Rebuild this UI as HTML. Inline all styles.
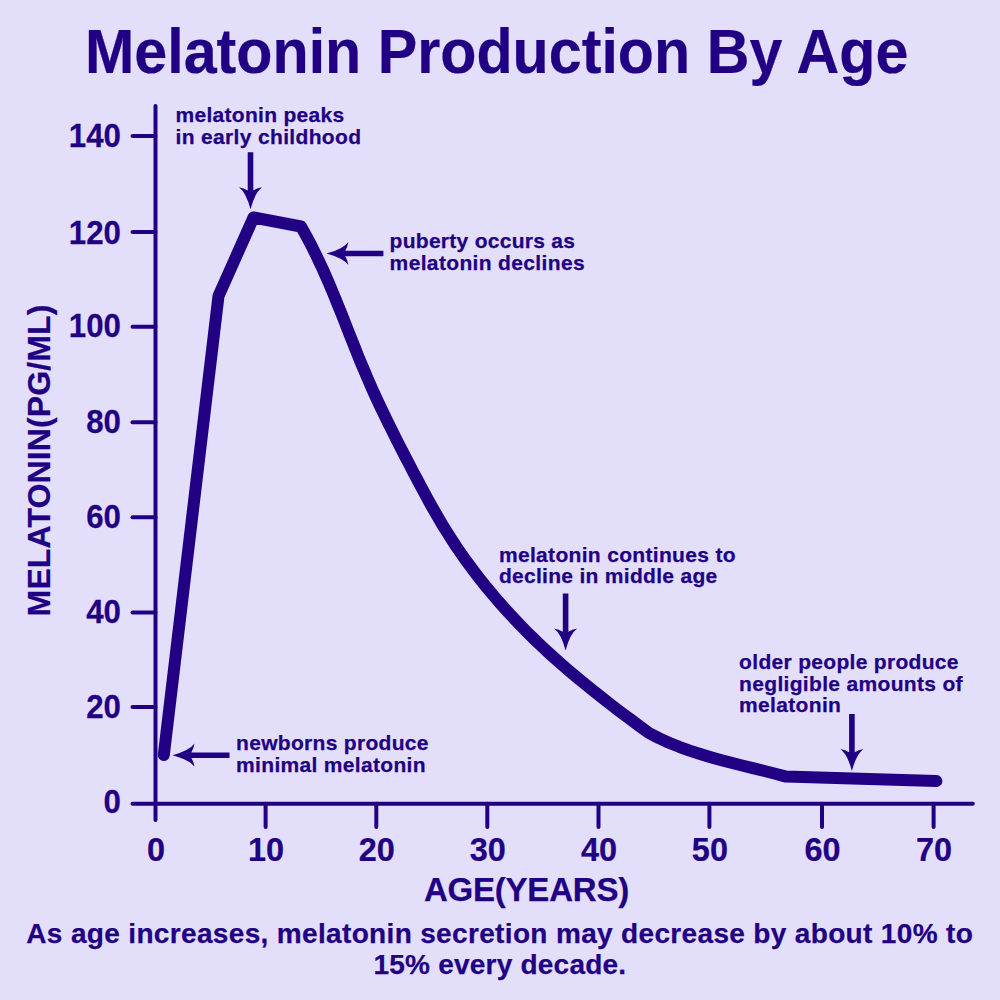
<!DOCTYPE html>
<html><head><meta charset="utf-8">
<style>
html,body{margin:0;padding:0;background:#E3DFFB;width:1000px;height:1000px;overflow:hidden;}
svg{display:block;}
text{font-family:"Liberation Sans",sans-serif;font-weight:bold;fill:#210084;stroke:#210084;stroke-width:0.25px;}
</style></head>
<body>
<svg width="1000" height="1000" viewBox="0 0 1000 1000">
<rect width="1000" height="1000" fill="#E3DFFB"/>
<text transform="translate(85,72.6) scale(0.94,1)" x="0" y="0" font-size="63" stroke="#210084" stroke-width="1.6" stroke-linejoin="round">Melatonin Production By Age</text>
<g stroke="#210084" stroke-width="4" stroke-linecap="round" fill="none"><line x1="155.5" y1="106" x2="155.5" y2="820"/><line x1="132.5" y1="803.8" x2="972.8" y2="803.8"/><line x1="132.5" y1="136" x2="155.5" y2="136"/><line x1="132.5" y1="232" x2="155.5" y2="232"/><line x1="132.5" y1="326.8" x2="155.5" y2="326.8"/><line x1="132.5" y1="422.2" x2="155.5" y2="422.2"/><line x1="132.5" y1="517.2" x2="155.5" y2="517.2"/><line x1="132.5" y1="612.6" x2="155.5" y2="612.6"/><line x1="132.5" y1="707" x2="155.5" y2="707"/><line x1="265.6" y1="803.8" x2="265.6" y2="827"/><line x1="376.3" y1="803.8" x2="376.3" y2="827"/><line x1="487.3" y1="803.8" x2="487.3" y2="827"/><line x1="598.5" y1="803.8" x2="598.5" y2="827"/><line x1="709.4" y1="803.8" x2="709.4" y2="827"/><line x1="822" y1="803.8" x2="822" y2="827"/><line x1="933.6" y1="803.8" x2="933.6" y2="827"/></g>
<text transform="translate(121,147.0) scale(0.92,1)" x="0" y="0" font-size="34" text-anchor="end">140</text>
<text transform="translate(121,244.3) scale(0.92,1)" x="0" y="0" font-size="34" text-anchor="end">120</text>
<text transform="translate(121,337.1) scale(0.92,1)" x="0" y="0" font-size="34" text-anchor="end">100</text>
<text transform="translate(121,432.9) scale(0.92,1)" x="0" y="0" font-size="34" text-anchor="end">80</text>
<text transform="translate(121,528.0) scale(0.92,1)" x="0" y="0" font-size="34" text-anchor="end">60</text>
<text transform="translate(121,622.6) scale(0.92,1)" x="0" y="0" font-size="34" text-anchor="end">40</text>
<text transform="translate(121,717.8) scale(0.92,1)" x="0" y="0" font-size="34" text-anchor="end">20</text>
<text transform="translate(121,812.9) scale(0.92,1)" x="0" y="0" font-size="34" text-anchor="end">0</text>
<text transform="translate(156.0,861) scale(0.955,1)" x="0" y="0" font-size="34" text-anchor="middle">0</text>
<text transform="translate(266.1,861) scale(0.955,1)" x="0" y="0" font-size="34" text-anchor="middle">10</text>
<text transform="translate(376.8,861) scale(0.955,1)" x="0" y="0" font-size="34" text-anchor="middle">20</text>
<text transform="translate(487.8,861) scale(0.955,1)" x="0" y="0" font-size="34" text-anchor="middle">30</text>
<text transform="translate(599.0,861) scale(0.955,1)" x="0" y="0" font-size="34" text-anchor="middle">40</text>
<text transform="translate(709.9,861) scale(0.955,1)" x="0" y="0" font-size="34" text-anchor="middle">50</text>
<text transform="translate(822.5,861) scale(0.955,1)" x="0" y="0" font-size="34" text-anchor="middle">60</text>
<text transform="translate(934.1,861) scale(0.955,1)" x="0" y="0" font-size="34" text-anchor="middle">70</text>
<text x="423.9" y="901" font-size="33" textLength="205.3" lengthAdjust="spacing" >AGE(YEARS)</text>
<text transform="translate(50.4,616.4) rotate(-90)" x="0" y="0" font-size="32" textLength="311.8" lengthAdjust="spacing">MELATONIN(PG/ML)</text>
<text x="26.3" y="943" font-size="28" textLength="946.5" lengthAdjust="spacing" >As age increases, melatonin secretion may decrease by about 10% to</text>
<text x="373.4" y="974.4" font-size="28" textLength="252.7" lengthAdjust="spacing" >15% every decade.</text>
<text x="175.5" y="121.5" font-size="21" textLength="168.7" lengthAdjust="spacing" >melatonin peaks</text>
<text x="175.5" y="143.5" font-size="21" textLength="185.5" lengthAdjust="spacing" >in early childhood</text>
<text x="389.6" y="248.1" font-size="21" textLength="185.4" lengthAdjust="spacing" >puberty occurs as</text>
<text x="389.6" y="270.1" font-size="21" textLength="195.0" lengthAdjust="spacing" >melatonin declines</text>
<text x="498.9" y="561.5" font-size="21" textLength="236.7" lengthAdjust="spacing" >melatonin continues to</text>
<text x="498.9" y="583.1" font-size="21" textLength="218.3" lengthAdjust="spacing" >decline in middle age</text>
<text x="739.1" y="669" font-size="21" textLength="219.4" lengthAdjust="spacing" >older people produce</text>
<text x="739.1" y="690.6" font-size="21" textLength="223.5" lengthAdjust="spacing" >negligible amounts of</text>
<text x="739.1" y="712.2" font-size="21" textLength="101.8" lengthAdjust="spacing" >melatonin</text>
<text x="236.1" y="750.3" font-size="21" textLength="192.4" lengthAdjust="spacing" >newborns produce</text>
<text x="236.1" y="771.9" font-size="21" textLength="189.4" lengthAdjust="spacing" >minimal melatonin</text>
<path fill="none" stroke="#210084" stroke-width="12" stroke-linecap="round" stroke-linejoin="round" d="M163.8,755 L218.5,296 L253.5,217.5 L301,226.5 L305.0,233.6 L308.8,240.7 L312.5,247.8 L316.0,254.9 L319.4,262.1 L322.8,269.3 L326.0,276.5 L329.1,283.7 L332.2,291.0 L335.2,298.3 L338.1,305.5 L341.1,312.8 L344.0,320.1 L346.8,327.4 L349.7,334.7 L352.6,342.0 L355.5,349.3 L358.4,356.6 L361.4,363.9 L364.5,371.2 L367.6,378.5 L370.8,385.8 L374.0,393.1 L377.4,400.4 L380.8,407.6 L384.3,414.8 L387.8,422.1 L391.3,429.2 L394.9,436.4 L398.5,443.6 L402.2,450.7 L405.8,457.8 L409.5,464.8 L413.2,471.9 L416.9,478.9 L420.6,485.8 L424.3,492.8 L428.0,499.7 L431.8,506.5 L435.7,513.3 L439.6,520.1 L443.6,526.8 L447.8,533.4 L452.0,540.0 L456.3,546.6 L460.8,553.1 L465.3,559.6 L470.0,565.9 L474.8,572.3 L479.6,578.6 L484.5,584.8 L489.6,590.9 L494.7,597.0 L499.9,603.0 L505.2,609.0 L510.5,614.8 L516.0,620.7 L521.5,626.4 L527.1,632.1 L532.7,637.6 L538.4,643.2 L544.2,648.6 L550.0,654.0 L555.9,659.3 L561.8,664.5 L567.8,669.7 L573.9,674.8 L579.9,679.9 L586.1,684.9 L592.2,689.9 L598.4,694.8 L604.7,699.7 L610.9,704.6 L617.2,709.4 L623.5,714.2 L629.9,718.9 L636.2,723.6 L642.6,728.3 L649.0,733.0 L658.9,738.1 L669.0,742.7 L679.2,746.8 L689.6,750.6 L700.2,754.0 L710.8,757.2 L721.5,760.2 L732.3,763.0 L743.1,765.7 L753.8,768.4 L764.6,771.0 L775.3,773.7 L786.0,776.6 L852,778.5 L936.4,781"/>
<path transform="translate(250.5,152.3) rotate(0)" fill="#210084" d="M-2.8,0 L2.8,0 L2.8,38.2 Q6.5,35.8 11.6,35 Q4.5,40 0,57 Q-4.5,40 -11.6,35 Q-6.5,35.8 -2.8,38.2 Z"/>
<path transform="translate(565.6,593.5) rotate(0)" fill="#210084" d="M-2.8,0 L2.8,0 L2.8,38.2 Q6.5,35.8 11.6,35 Q4.5,40 0,57 Q-4.5,40 -11.6,35 Q-6.5,35.8 -2.8,38.2 Z"/>
<path transform="translate(851.9,714) rotate(0)" fill="#210084" d="M-2.8,0 L2.8,0 L2.8,38.2 Q6.5,35.8 11.6,35 Q4.5,40 0,57 Q-4.5,40 -11.6,35 Q-6.5,35.8 -2.8,38.2 Z"/>
<path transform="translate(383.4,253.5) rotate(90)" fill="#210084" d="M-2.8,0 L2.8,0 L2.8,38.2 Q6.5,35.8 11.6,35 Q4.5,40 0,57 Q-4.5,40 -11.6,35 Q-6.5,35.8 -2.8,38.2 Z"/>
<path transform="translate(229.5,755.2) rotate(90)" fill="#210084" d="M-2.8,0 L2.8,0 L2.8,38.2 Q6.5,35.8 11.6,35 Q4.5,40 0,57 Q-4.5,40 -11.6,35 Q-6.5,35.8 -2.8,38.2 Z"/>
</svg>
</body></html>
